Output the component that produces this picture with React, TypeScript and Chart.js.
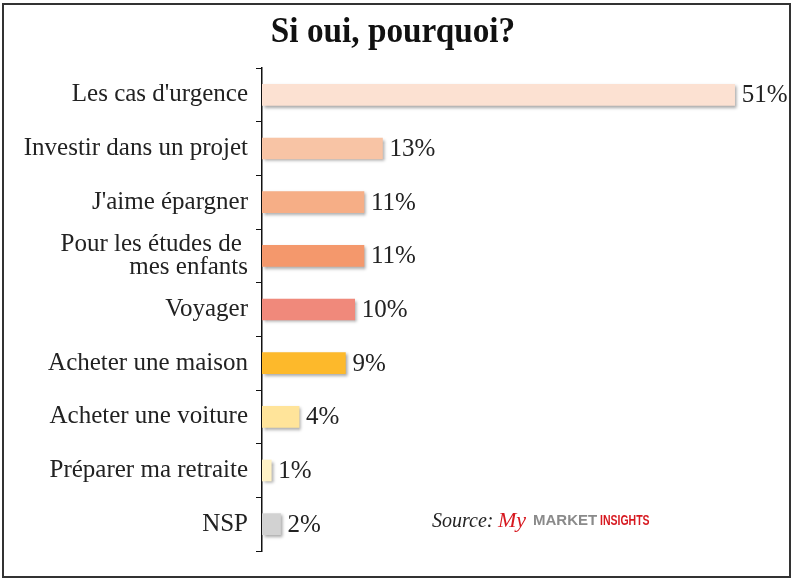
import React, { useEffect, useRef } from "react";
import { Chart, registerables } from "chart.js";

Chart.register(...registerables);

const categories: (string | string[])[] = [
  "Les cas d'urgence",
  "Investir dans un projet",
  "J'aime épargner",
  ["Pour les études de ", "mes enfants"],
  "Voyager",
  "Acheter une maison",
  "Acheter une voiture",
  "Préparer ma retraite",
  "NSP",
];
const values = [51, 13, 11, 11, 10, 9, 4, 1, 2];
const barColors = [
  "#FCE1D2",
  "#F8C4A5",
  "#F6AE86",
  "#F4986C",
  "#F0897B",
  "#FDB92B",
  "#FFE49A",
  "#FFF2C6",
  "#D2D2D2",
];
const title = "Si oui, pourquoi?";

const SERIF = "'Liberation Serif', 'Times New Roman', serif";
const SANS = "'Liberation Sans', Arial, sans-serif";

export default function App() {
  const ref = useRef<HTMLCanvasElement | null>(null);

  useEffect(() => {
    document.body.style.margin = "0";
    const canvas = ref.current!;
    const decor = {
      id: "decor",
      beforeDraw(chart: any) {
        const ctx = chart.ctx;
        ctx.save();
        ctx.fillStyle = "#ffffff";
        ctx.fillRect(0, 0, chart.width, chart.height);
        ctx.restore();
      },
      beforeDatasetsDraw(chart: any) {
        const ctx = chart.ctx;
        ctx.save();
        ctx.shadowColor = "rgba(0,0,0,0.35)";
        ctx.shadowOffsetX = 2;
        ctx.shadowOffsetY = 2;
        ctx.shadowBlur = 3;
      },
      afterDatasetsDraw(chart: any) {
        const ctx = chart.ctx;
        ctx.restore();
        const meta = chart.getDatasetMeta(0);
        ctx.save();
        ctx.fillStyle = "#222";
        ctx.font = `25px ${SERIF}`;
        ctx.textBaseline = "middle";
        ctx.textAlign = "left";
        meta.data.forEach((bar: any, i: number) => {
          ctx.fillText(values[i] + "%", bar.x + 7, bar.y + 1);
        });
        ctx.restore();
      },
      afterDraw(chart: any) {
        const ctx = chart.ctx;
        ctx.save();
        // title
        ctx.fillStyle = "#111";
        ctx.font = `bold 35px ${SERIF}`;
        ctx.textAlign = "center";
        ctx.textBaseline = "alphabetic";
        ctx.save();
        ctx.translate(393, 42);
        ctx.scale(0.95, 1);
        ctx.fillText(title, 0, 0);
        ctx.restore();
        // source
        ctx.textAlign = "left";
        ctx.font = `italic 20px ${SERIF}`;
        ctx.fillStyle = "#222";
        ctx.fillText("Source:", 432, 527);
        ctx.font = `italic 22px ${SERIF}`;
        ctx.fillStyle = "#D71920";
        ctx.fillText("My", 498, 527);
        ctx.font = `bold 15px ${SANS}`;
        ctx.fillStyle = "#8A8A8A";
        ctx.fillText("MARKET", 533, 525);
        ctx.font = `bold 14px ${SANS}`;
        ctx.fillStyle = "#D71920";
        ctx.save();
        ctx.translate(600, 525);
        ctx.scale(0.75, 1);
        ctx.fillText("INSIGHTS", 0, 0);
        ctx.restore();
        // frame
        ctx.strokeStyle = "#333";
        ctx.lineWidth = 2;
        ctx.strokeRect(3, 4, 787, 573);
        ctx.restore();
      },
    };

    const chart = new Chart(canvas, {
      type: "bar",
      data: {
        labels: categories,
        datasets: [
          {
            data: values,
            backgroundColor: barColors,
            borderWidth: 0,
            barThickness: 21,
          },
        ],
      },
      options: {
        indexAxis: "y",
        animation: false,
        responsive: false,
        maintainAspectRatio: false,
        layout: { padding: { top: 68, bottom: 31, left: 0, right: 19 } },
        plugins: {
          legend: { display: false },
          tooltip: { enabled: false },
          title: { display: false },
        },
        scales: {
          x: {
            display: false,
            min: 0,
            max: 56,
          },
          y: {
            afterFit(scale: any) {
              scale.width = 262;
            },
            grid: {
              display: true,
              offset: true,
              drawOnChartArea: false,
              drawTicks: true,
              tickLength: 6,
              color: "#111",
            },
            border: { display: true, color: "#111", width: 1.5 },
            ticks: {
              autoSkip: false,
              color: "#222",
              padding: 8,
              font: { family: SERIF, size: 25, lineHeight: 0.9 },
            },
          },
        },
      },
      plugins: [decor],
    } as any);
    return () => chart.destroy();
  }, []);

  return (
    <div style={{ width: 800, height: 582 }}>
      <canvas ref={ref} width={800} height={582} style={{ display: "block" }} />
    </div>
  );
}
